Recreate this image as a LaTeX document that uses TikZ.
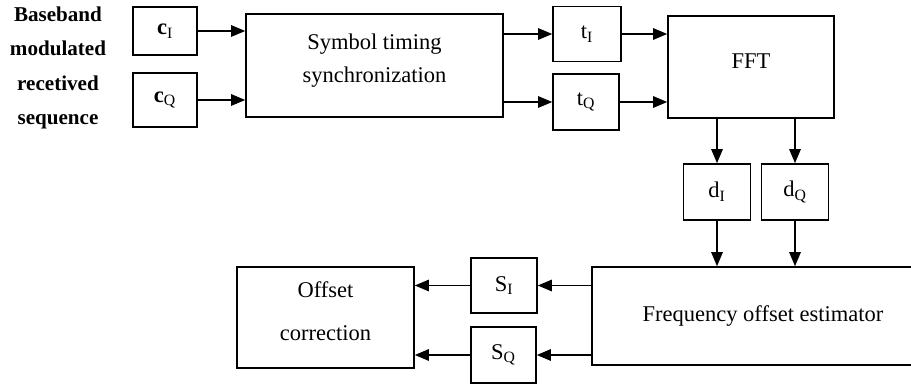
\documentclass[tikz,border=0pt]{standalone}
\usepackage{fontspec}
\setmainfont{Liberation Serif}
\usetikzlibrary{positioning,arrows.meta}
\newcommand{\lift}[2]{\raisebox{#1}[\height][\depth]{#2}}

\begin{document}
\begin{tikzpicture}[x=0.025cm, y=-0.025cm, line width=1pt,
            font=\fontsize{16}{23.5}\selectfont,
            block/.style={draw, rectangle, inner sep=0pt, align=center},
            arr/.style={-{Triangle[length=10pt,width=8pt]}, line width=1.4pt}]

        \useasboundingbox (0,0) rectangle (911,385);
        \clip (0,0) rectangle (911,385);

        % entrada
        \node[align=center, font=\bfseries\fontsize{15}{24.5}\selectfont] (input) at (58,68) {Baseband\\modulated\\recetived\\sequence};

        \node[block, minimum width=1.6cm, minimum height=1.2cm] (cI) at (165,31) {\textbf{c}\textsubscript{I}};
        \node[block, minimum width=1.6cm, minimum height=1.35cm] (cQ) at (165,100) {\textbf{c}\textsubscript{Q}};

        \node[block, minimum width=6.425cm, minimum height=2.575cm] (sync) at (374.5,65.5) {\lift{3.5pt}{Symbol timing}\\\lift{3.5pt}{synchronization}};

        \node[block, minimum width=1.7cm, minimum height=1.375cm] (tI) at (587,34) {t\textsubscript{I}};
        \node[block, minimum width=1.65cm, minimum height=1.4cm] (tQ) at (586,102) {t\textsubscript{Q}};

        \node[block, minimum width=4.15cm, minimum height=2.55cm] (FFT) at (751,67) {\lift{4pt}{FFT}};

        \node[block, minimum width=1.675cm, minimum height=1.4cm] (dI) at (717,192) {d\textsubscript{I}};
        \node[block, minimum width=1.675cm, minimum height=1.4cm] (dQ) at (795,192) {d\textsubscript{Q}};

        \node[block, minimum width=8.55cm, minimum height=2.45cm] (FOE) at (763,316) {Frequency offset estimator};

        \node[block, minimum width=1.65cm, minimum height=1.375cm] (SI) at (504,285.5) {S\textsubscript{I}};
        \node[block, minimum width=1.625cm, minimum height=1.4cm] (SQ) at (503.5,355) {S\textsubscript{Q}};

        \node[block, minimum width=4.425cm, minimum height=2.525cm] (OC) at (325.5,317.5) {\lift{4.5pt}{Offset}\\[7pt]\lift{4.5pt}{correction}};

        % conexiones
        \draw[arr] (cI.east) -- (sync.west |- cI.east);
        \draw[arr] (cQ.east) -- (sync.west |- cQ.east);

        \draw[arr] (sync.east |- tI.west) -- (tI.west);
        \draw[arr] (sync.east |- tQ.west) -- (tQ.west);

        \draw[arr] (tI.east) -- (FFT.west |- tI.east);
        \draw[arr] (tQ.east) -- (FFT.west |- tQ.east);

        \draw[arr] (FFT.south -| dI.north) -- (dI.north);
        \draw[arr] (FFT.south -| dQ.north) -- (dQ.north);

        \draw[arr] (dI.south) -- (dI.south |- FOE.north);
        \draw[arr] (dQ.south) -- (dQ.south |- FOE.north);

        \draw[arr] (FOE.west |- SI.east) -- (SI.east);
        \draw[arr] (FOE.west |- SQ.east) -- (SQ.east);

        \draw[arr] (SI.west) -- (OC.east |- SI.west);
        \draw[arr] (SQ.west) -- (OC.east |- SQ.west);
\end{tikzpicture}
\end{document}
